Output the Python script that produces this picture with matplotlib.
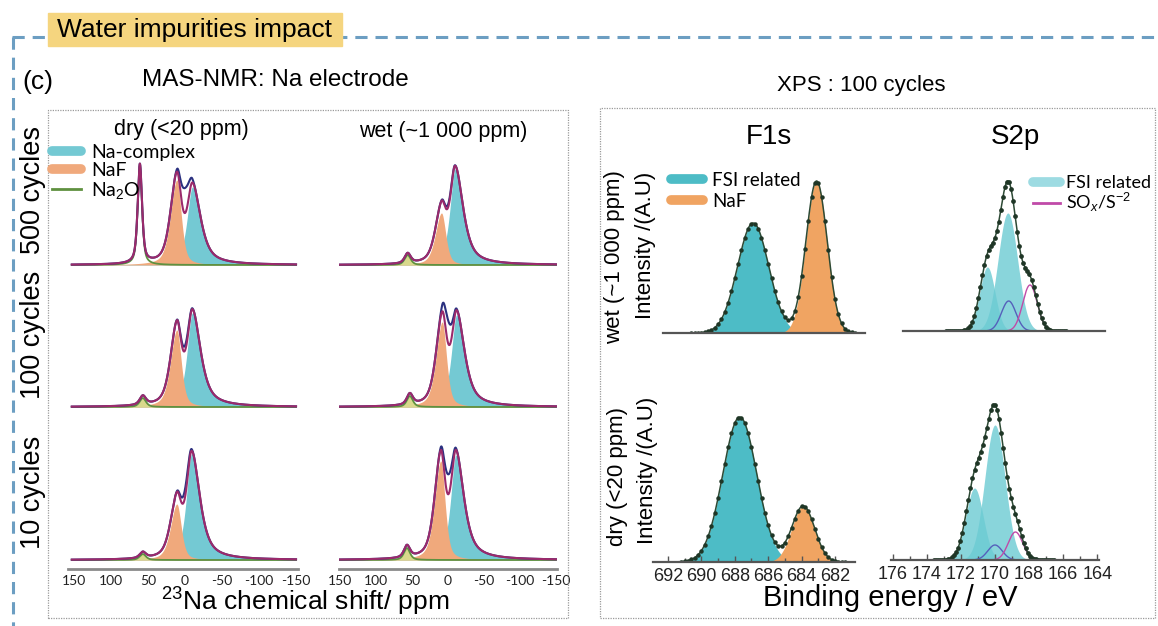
import numpy as np
import matplotlib
matplotlib.use('Agg')
import matplotlib.pyplot as plt
from matplotlib.lines import Line2D
from matplotlib.patches import Rectangle

plt.rcParams['font.family'] = 'Liberation Sans'
plt.rcParams['mathtext.fontset'] = 'custom'
plt.rcParams['mathtext.rm'] = 'Liberation Sans'
plt.rcParams['mathtext.it'] = 'Liberation Sans:italic'

# ---- MAS-NMR data (rows: 500, 100, 10 cycles; cols: dry, wet) ----
nmr_rows = ['500 cycles', '100 cycles', '10 cycles']
nmr_cols = ['dry (<20 ppm)', 'wet (~1 000 ppm)']
nmr_ticks = [150, 100, 50, 0, -50, -100, -150]
nmr_naf_pos = [[11, 9], [11, 8], [11, 10]]          # ppm
nmr_naf_height = [[85, 52], [77, 85], [56, 99]]
nmr_cplx_pos = [[-10, -10], [-10, -12], [-9, -11]]
nmr_cplx_height = [[78, 96], [94, 92], [106, 105]]
nmr_na2o_pos = [[61, 56], [57, 53], [57, 57]]
nmr_na2o_height = [[99, 10], [9, 11], [6, 12]]
nmr_na2o_hwhm = [[3.5, 5], [5, 5], [5, 5]]
nmr_misfit_height = [[25, 3], [5, 23], [8, 20]]    # measured minus fit near 0 ppm

# ---- XPS data (rows: wet, dry) ----
xps_rows = ['wet (~1 000 ppm)', 'dry (<20 ppm)']
f1s_ticks = [692, 690, 688, 686, 684, 682]
s2p_ticks = [176, 174, 172, 170, 168, 166, 164]
f1s_fsi_pos = [687.5, 687.7]
f1s_fsi_height = [110, 145]
f1s_fsi_fwhm = [2.2, 2.4]
f1s_naf_pos = [683.7, 683.9]
f1s_naf_height = [152, 56]
f1s_naf_fwhm = [1.5, 1.6]
s2p_fsi_pos = [[169.95, 171.15], [170.0, 171.2]]
s2p_fsi_height = [[118, 64], [135, 72]]
s2p_fsi_fwhm = [[1.35, 1.05], [1.4, 1.2]]
s2p_s_pos = [169.9, 170.0]
s2p_s_height = [30, 15]
s2p_sox_pos = [168.65, 168.8]
s2p_sox_height = [46, 28]

W, H = 1158, 626
fig = plt.figure(figsize=(W / 100, H / 100), dpi=100)


def px_axes(x0, y0, x1, y1):
    ax = fig.add_axes([x0 / W, 1 - y1 / H, (x1 - x0) / W, (y1 - y0) / H])
    ax.patch.set_alpha(0)
    for s in ax.spines.values():
        s.set_visible(False)
    ax.set_yticks([])
    return ax


def pv(x, c, h, hw_hi, hw_lo, eta):
    # pseudo-Voigt line with different half widths on the high/low ppm side
    d = (x - c) / np.where(x > c, hw_hi, hw_lo)
    return h * (eta / (1 + d * d) + (1 - eta) * np.exp(-np.log(2) * d * d))


def gauss(x, c, h, fwhm):
    return h * np.exp(-4 * np.log(2) * ((x - c) / fwhm) ** 2)


def ftext(x, y, s, **kw):
    fig.text(x / W, 1 - y / H, s, ha='center', va='center', **kw)


# frame decorations
dash = dict(color='#6c9ec2', lw=2.2, ls=(0, (4, 2.6)), transform=fig.transFigure)
fig.add_artist(Line2D([12 / W, 1], [1 - 37 / H] * 2, **dash))
fig.add_artist(Line2D([13 / W] * 2, [1 - 37 / H, 0], **dash))
fig.add_artist(Rectangle((48 / W, 1 - 46 / H), 294 / W, 33 / H, color='#f5d57f',
                         transform=fig.transFigure, zorder=3))
ftext(195, 30, 'Water impurities impact', fontsize=19, zorder=4)
for (x0, y0, x1, y1) in [(48, 110, 568, 618), (600, 108, 1155, 618)]:
    fig.add_artist(Rectangle((x0 / W, 1 - y1 / H), (x1 - x0) / W, (y1 - y0) / H, fill=False,
                             ec='#9a9a9a', lw=0.9, ls=(0, (1, 1)), transform=fig.transFigure))

ftext(38, 82, '(c)', fontsize=19)
ftext(275, 80, 'MAS-NMR: Na electrode', fontsize=17.5)
ftext(861, 85, 'XPS : 100 cycles', fontsize=16)

# ---- NMR panels ----
nmr_base = [265, 407, 560]
nmr_xspan = [(68.1, 297.5, 158, -152), (338.6, 557.4, 152, -152)]
ppm = np.linspace(153, -150, 1500)
for r in range(3):
    for c in range(2):
        x0, x1, lo, hi = nmr_xspan[c]
        ax = px_axes(x0, nmr_base[r] - 128, x1, nmr_base[r] + 9)
        ax.set_xlim(lo, hi)
        ax.set_ylim(-9, 128)
        naf = pv(ppm, nmr_naf_pos[r][c], nmr_naf_height[r][c], 10, 7, 0.5)
        cplx = pv(ppm, nmr_cplx_pos[r][c], nmr_cplx_height[r][c], 8.5, 13, 0.7)
        na2o = pv(ppm, nmr_na2o_pos[r][c], nmr_na2o_height[r][c],
                  nmr_na2o_hwhm[r][c], nmr_na2o_hwhm[r][c], 0.6)
        fit = naf + cplx + na2o
        meas = fit + gauss(ppm, 0, nmr_misfit_height[r][c], 12)
        ax.fill_between(ppm, 0, cplx, color='#74c9d3', lw=0)
        ax.fill_between(ppm, 0, naf, color='#f0a97c', lw=0)
        if nmr_na2o_height[r][c] < 50:
            ax.fill_between(ppm, 0, na2o, color='#d9d98c', lw=0)
        ax.plot(ppm, na2o, color='#5f9140', lw=1.3)
        ax.plot(ppm, meas, color='#2b3180', lw=1.5)
        ax.plot(ppm, fit, color='#9b2a6b', lw=1.5)
        if r == 2:
            ax.spines['bottom'].set_visible(True)
            ax.spines['bottom'].set_color('#8a8a8a')
            ax.spines['bottom'].set_linewidth(2)
            ax.spines['bottom'].set_position(('data', -9))
            ax.set_xticks(nmr_ticks)
            ax.set_xticklabels([str(t) for t in nmr_ticks], family='Lato', fontsize=10)
            ax.tick_params(axis='x', length=0, pad=4, colors='#222222')
        else:
            ax.set_xticks([])
        if r == 0 and c == 0:
            handles = [Line2D([], [], color='#74c9d3', lw=7, solid_capstyle='round'),
                       Line2D([], [], color='#f0a97c', lw=7, solid_capstyle='round'),
                       Line2D([], [], color='#5f9140', lw=2)]
            fig.legend(handles, ['Na-complex', 'NaF', 'Na$_2$O'], loc='upper left',
                       bbox_to_anchor=(52 / W, 1 - 144 / H), frameon=False, borderaxespad=0,
                       borderpad=0, handlelength=1.5, handletextpad=0.5, labelspacing=0.05,
                       prop={'family': 'Lato', 'size': 14})

ftext(181, 130, nmr_cols[0], fontsize=15.5)
ftext(443, 132, nmr_cols[1], fontsize=15.5)
for r, yc in enumerate([190, 335, 492]):
    ftext(33, yc, nmr_rows[r], fontsize=19.5, rotation=90)
ftext(305, 602, r'$^{23}$Na chemical shift/ ppm', fontsize=19)

# ---- XPS panels ----
f1s_span = [(663, 865, 692.9, 680.8), (653, 855, 692.9, 680.8)]
s2p_span = [(903, 1105, 176.1, 164.25), (891, 1099, 176.1, 163.9)]
xps_base = [333, 562]
ev1 = np.linspace(692.9, 680.8, 1200)
ev2 = np.linspace(176.1, 163.9, 1200)
dot1 = np.arange(691.2, 681.3, -0.2)
dot2 = np.arange(173.6, 166.4, -0.12)
for r in range(2):
    # F1s
    x0, x1, lo, hi = f1s_span[r]
    ax = px_axes(x0, xps_base[r] - 160, x1, xps_base[r])
    ax.set_xlim(lo, hi)
    ax.set_ylim(0, 160)
    fsi = gauss(ev1, f1s_fsi_pos[r], f1s_fsi_height[r], f1s_fsi_fwhm[r])
    naf = gauss(ev1, f1s_naf_pos[r], f1s_naf_height[r], f1s_naf_fwhm[r])
    ax.fill_between(ev1, 0, fsi, color='#4dbcc6', lw=0)
    ax.fill_between(ev1, 0, naf, color='#f0a462', lw=0)
    ax.plot(ev1, fsi + naf, color='#2d4a35', lw=1.1)
    dd = gauss(dot1, f1s_fsi_pos[r], f1s_fsi_height[r], f1s_fsi_fwhm[r]) + \
        gauss(dot1, f1s_naf_pos[r], f1s_naf_height[r], f1s_naf_fwhm[r])
    ax.plot(dot1, dd, 'o', color='#1f3626', ms=2.2)
    axes_pair = [ax]
    # S2p
    x0, x1, lo, hi = s2p_span[r]
    ax2 = px_axes(x0, xps_base[r] - 2 - 160, x1, xps_base[r] - 2)
    ax2.set_xlim(lo, hi)
    ax2.set_ylim(0, 160)
    total = np.zeros_like(ev2)
    for k in range(2):
        comp = gauss(ev2, s2p_fsi_pos[r][k], s2p_fsi_height[r][k], s2p_fsi_fwhm[r][k])
        ax2.fill_between(ev2, 0, comp, color='#6ccbd3', alpha=0.8, lw=0)
        total += comp
    s_comp = gauss(ev2, s2p_s_pos[r], s2p_s_height[r], 1.0)
    sox = gauss(ev2, s2p_sox_pos[r], s2p_sox_height[r], 1.0)
    total += s_comp + sox
    ax2.plot(ev2, s_comp, color='#5560bb', lw=1.0)
    ax2.plot(ev2, sox, color='#c04aa8', lw=1.0)
    ax2.plot(ev2, total, color='#2d4a35', lw=1.1)
    dd = sum(gauss(dot2, s2p_fsi_pos[r][k], s2p_fsi_height[r][k], s2p_fsi_fwhm[r][k]) for k in range(2))
    dd = dd + gauss(dot2, s2p_s_pos[r], s2p_s_height[r], 1.0) + gauss(dot2, s2p_sox_pos[r], s2p_sox_height[r], 1.0)
    ax2.plot(dot2, dd, 'o', color='#1f3626', ms=2.4)
    axes_pair.append(ax2)
    for a, ticks in zip(axes_pair, [f1s_ticks, s2p_ticks]):
        a.spines['bottom'].set_visible(True)
        a.spines['bottom'].set_color('#555555')
        a.spines['bottom'].set_linewidth(1.6)
        if r == 1:
            a.set_xticks(ticks)
            a.set_xticks(np.arange(ticks[0], ticks[-1] - 0.5, -1), minor=True)
            a.tick_params(axis='x', which='both', direction='in', colors='#555555', width=1)
            a.tick_params(axis='x', which='major', length=4, pad=4, labelsize=13, labelcolor='#222222')
            a.tick_params(axis='x', which='minor', length=3)
        else:
            a.set_xticks([])

ftext(769, 137, 'F1s', fontsize=20)
ftext(1015, 137, 'S2p', fontsize=20)
ftext(615, 257, xps_rows[0], fontsize=16, rotation=90)
ftext(646, 245, 'Intensity /(A.U)', fontsize=16, rotation=90)
ftext(617, 476, xps_rows[1], fontsize=16, rotation=90)
ftext(648, 470, 'Intensity /(A.U)', fontsize=16, rotation=90)
ftext(890, 598, 'Binding energy / eV', fontsize=21)

h1 = [Line2D([], [], color='#4dbcc6', lw=7, solid_capstyle='round'),
      Line2D([], [], color='#f0a462', lw=7, solid_capstyle='round')]
fig.legend(h1, ['FSI related', 'NaF'], loc='upper left', bbox_to_anchor=(671 / W, 1 - 172 / H),
           frameon=False, borderaxespad=0, borderpad=0, handlelength=1.7, handletextpad=0.5,
           labelspacing=0.2, prop={'family': 'Lato', 'size': 13.5})
h2 = [Line2D([], [], color='#9ddbe2', lw=7, solid_capstyle='round'),
      Line2D([], [], color='#c04aa8', lw=2)]
fig.legend(h2, ['FSI related', 'SO$_x$/S$^{-2}$'], loc='upper left',
           bbox_to_anchor=(1033 / W, 1 - 175 / H), frameon=False, borderaxespad=0, borderpad=0,
           handlelength=1.5, handletextpad=0.35, labelspacing=0.0,
           prop={'family': 'Lato', 'size': 13})

fig.savefig('out.png', dpi=100)
